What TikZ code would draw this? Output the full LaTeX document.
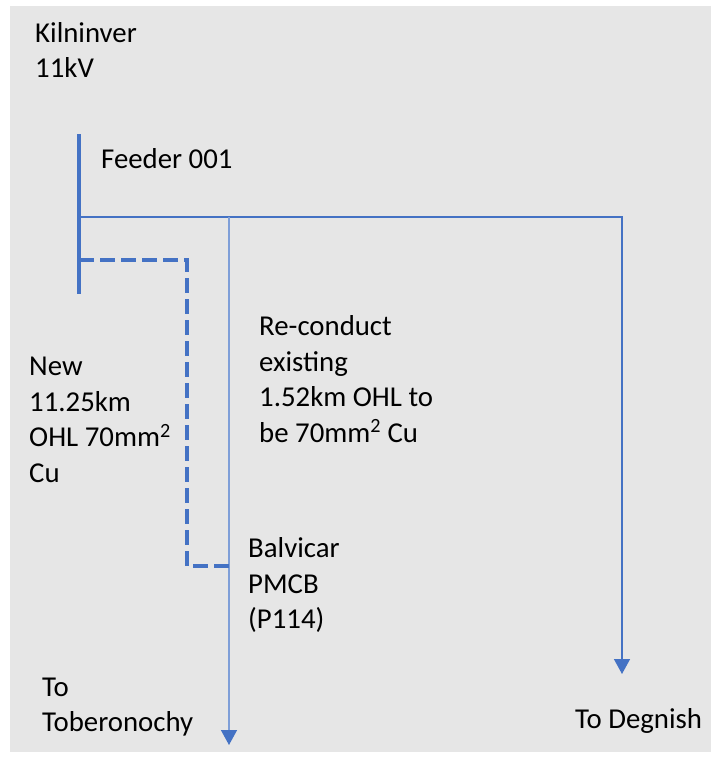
\documentclass[tikz,border=0pt]{standalone}
\usepackage{fontspec}
\setmainfont{Carlito}
\usetikzlibrary{arrows.meta}
\usetikzlibrary{positioning}
\definecolor{linkblue}{HTML}{4472C4}
\definecolor{paleblue}{HTML}{7F9FD8}
\definecolor{sheet}{HTML}{E6E6E6}

\begin{document}
\begin{tikzpicture}[x=1pt,y=-1pt,
    txt/.style={inner sep=0pt, anchor=base west, align=left, font=\fontsize{28.8}{35.5}\selectfont},
    busbar/.style={linkblue, line width=4pt},
    ohl/.style={linkblue, line width=1.5pt},
    newohl/.style={linkblue, line width=3.2pt, dash pattern=on 15pt off 6pt},
    feed/.style={-{Triangle[width=16pt,length=15pt,color=linkblue]}}]
    % sheet
    \useasboundingbox (0,0) rectangle (711,758);
    \fill[white] (0,0) rectangle (711,758);
    \fill[sheet] (10,6) rectangle (711,752);

    \coordinate (bbtop) at (79,134);
    \coordinate (bbbot) at (79,294);
    \coordinate (tee) at (79,217);
    \coordinate (corner) at (622,217);
    \coordinate (split) at (229,217);
    \coordinate (degnish) at (622,674);
    \coordinate (tober) at (229,745);
    \coordinate (dtee) at (79,260);
    \coordinate (dtop) at (187,260);
    \coordinate (dbot) at (187,566);
    \coordinate (pmcb) at (229,566);

    \draw[busbar] (bbtop) -- (bbbot);
    \draw[ohl, feed] (tee) -- (corner) -- (degnish);
    \draw[paleblue, line width=1.5pt, feed] (split) -- (tober);
    \draw[newohl] (dtee) -- (dtop) -- (dbot) -- (pmcb);

    % base = baseline of the last line
    \node[txt] (kilninver) at (35,77.5) {Kilninver\\11kV};
    \node[txt] (feeder) at (101,168) {Feeder 001};
    \node[txt] (newline) at (29,482) {New\\11.25km\\OHL 70mm\textsuperscript{2}\\Cu};
    \node[txt] (reconduct) at (259,442) {Re-conduct\\existing\\1.52km OHL to\\be 70mm\textsuperscript{2} Cu};
    \node[txt] (balvicar) at (248,628.5) {Balvicar\\PMCB\\(P114)};
    \node[txt] (tolabel) at (42,731.5) {To\\Toberonochy};
    \node[txt] (degnishlabel) at (575,728) {To Degnish};
\end{tikzpicture}
\end{document}
